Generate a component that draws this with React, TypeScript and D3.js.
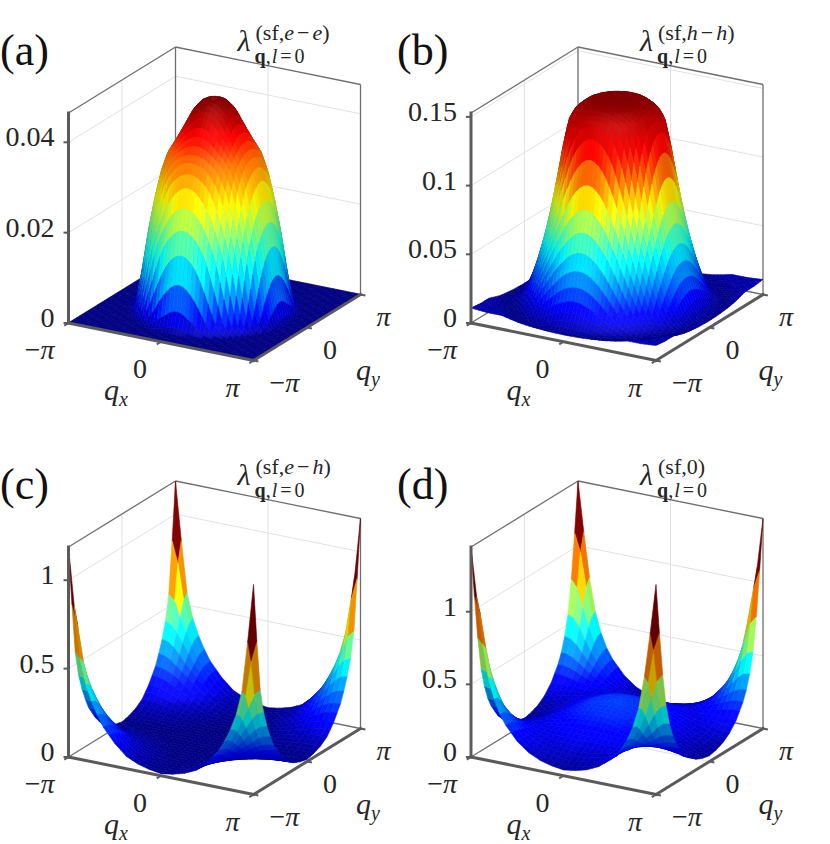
import React from "react";
import * as d3 from "d3";

const W = 830;
const H = 844;

// ---------------- data ----------------
const PANEL_LABELS = ["(a)", "(b)", "(c)", "(d)"];
const Q_TICKS = [-Math.PI, 0, Math.PI];
const Q_TICK_LABELS = ["−π", "0", "π"];

const Z_TICKS_A = [0, 0.02, 0.04];
const Z_LABELS_A = ["0", "0.02", "0.04"];
const Z_TICKS_B = [0, 0.05, 0.1, 0.15];
const Z_LABELS_B = ["0", "0.05", "0.1", "0.15"];
const Z_TICKS_C = [0, 0.5, 1];
const Z_LABELS_C = ["0", "0.5", "1"];
const Z_TICKS_D = [0, 0.5, 1];
const Z_LABELS_D = ["0", "0.5", "1"];

// title superscripts: [text, style]  (i = italic, n = normal, o = operator with spacing)
const TITLE_SUP_A = [["(sf,", "n"], ["e", "i"], ["−", "o"], ["e", "i"], [")", "n"]];
const TITLE_SUP_B = [["(sf,", "n"], ["h", "i"], ["−", "o"], ["h", "i"], [")", "n"]];
const TITLE_SUP_C = [["(sf,", "n"], ["e", "i"], ["−", "o"], ["h", "i"], [")", "n"]];
const TITLE_SUP_D = [["(sf,0)", "n"]];

// (a) e-e : radial profile from q = 0   (r in units of π)
const R_EE = [0, 0.06, 0.12, 0.2, 0.28, 0.36, 0.44, 0.5, 0.56, 0.62, 0.68, 0.72, 0.76, 0.8, 1.5];
const LAMBDA_EE = [0.0455, 0.0465, 0.046, 0.044, 0.0405, 0.0372, 0.0342, 0.0302, 0.0242, 0.017, 0.008, 0.003, 0.0006, 0, 0];

// (b) h-h : radial profile from q = 0
const R_HH = [0, 0.1, 0.2, 0.3, 0.4, 0.45, 0.5, 0.55, 0.6, 0.65, 0.7, 0.75, 0.8, 0.85, 0.9, 0.95, 1.0, 1.1, 1.2, 1.3, 1.42];
const LAMBDA_HH = [0.152, 0.1529, 0.1524, 0.15, 0.144, 0.137, 0.12, 0.099, 0.079, 0.061, 0.046, 0.033, 0.022, 0.014, 0.009, 0.006, 0.005, 0.007, 0.01, 0.01, 0.011];

// (c) e-h : profile vs distance from Q = (π, π)
const D_EH = [0, 0.0625, 0.125, 0.1875, 0.25, 0.3125, 0.375, 0.5, 0.625, 0.75, 0.875, 1.0, 1.2, 1.42];
const LAMBDA_EH = [1.188, 0.86, 0.57, 0.43, 0.34, 0.27, 0.21, 0.13, 0.07, 0.04, 0.022, 0.012, 0.01, 0.012];

// (d) total : spike vs distance from (π, π) plus a dome around q = 0
const D_0 = [0, 0.0625, 0.125, 0.1875, 0.25, 0.3125, 0.375, 0.5, 0.625, 0.75, 0.875, 1.0, 1.2, 1.42];
const LAMBDA_0_SPIKE = [1.445, 1.1, 0.79, 0.56, 0.42, 0.32, 0.25, 0.15, 0.085, 0.045, 0.022, 0.01, 0, 0];
const R_0 = [0, 0.25, 0.5, 0.75, 1.0, 1.42];
const LAMBDA_0_DOME = [0.3, 0.27, 0.19, 0.1, 0.03, 0];

// ---------------- geometry / style ----------------
const EX = [185, 37.5];
const EY = [107, -66];
const EZ = 210;
const XY_WORLD = 213;
const Z_WORLD = 224;
const FAR = [-0.466, 0.813];

const LAYOUT = [
  { ox: 68.5, oy: 323, labelX: 0 },
  { ox: 471, oy: 323, labelX: 397 },
  { ox: 68.5, oy: 757, labelX: 0 },
  { ox: 471, oy: 757, labelX: 397 },
];

const FONT = "'Liberation Serif', 'Times New Roman', serif";
const TICK_FONT = 28;

type V3 = [number, number, number];
const sub = (a: V3, b: V3): V3 => [a[0] - b[0], a[1] - b[1], a[2] - b[2]];
const cross = (a: V3, b: V3): V3 => [a[1] * b[2] - a[2] * b[1], a[2] * b[0] - a[0] * b[2], a[0] * b[1] - a[1] * b[0]];
const dot = (a: V3, b: V3) => a[0] * b[0] + a[1] * b[1] + a[2] * b[2];
const norm = (a: V3): V3 => {
  const l = Math.hypot(a[0], a[1], a[2]) || 1;
  return [a[0] / l, a[1] / l, a[2] / l];
};
const LIGHT = norm([0.314, -0.548, 0.776]);
const VIEW = norm([0.466, -0.813, 0.351]);
const HALF = norm([LIGHT[0] + VIEW[0], LIGHT[1] + VIEW[1], LIGHT[2] + VIEW[2]]);

const clamp01 = (x: number) => Math.max(0, Math.min(1, x));
function jet(t: number): V3 {
  return [clamp01(1.5 - Math.abs(4 * t - 3)), clamp01(1.5 - Math.abs(4 * t - 2)), clamp01(1.5 - Math.abs(4 * t - 1))];
}

const profile = (dom: number[], rng: number[]) => d3.scaleLinear().domain(dom).range(rng).clamp(true);
const fEE = profile(R_EE, LAMBDA_EE);
const fHH = profile(R_HH, LAMBDA_HH);
const fEH = profile(D_EH, LAMBDA_EH);
const f0s = profile(D_0, LAMBDA_0_SPIKE);
const f0d = profile(R_0, LAMBDA_0_DOME);
const radius = (qx: number, qy: number) => Math.hypot(qx, qy) / Math.PI;
const cornerDist = (qx: number, qy: number) => Math.hypot(Math.PI - Math.abs(qx), Math.PI - Math.abs(qy)) / Math.PI;

const PANELS = [
  { value: (x: number, y: number) => fEE(radius(x, y)), N: 48, zTicks: Z_TICKS_A, zLabels: Z_LABELS_A, sup: TITLE_SUP_A },
  { value: (x: number, y: number) => fHH(radius(x, y)), N: 48, zTicks: Z_TICKS_B, zLabels: Z_LABELS_B, sup: TITLE_SUP_B },
  { value: (x: number, y: number) => fEH(cornerDist(x, y)), N: 32, zTicks: Z_TICKS_C, zLabels: Z_LABELS_C, sup: TITLE_SUP_C },
  { value: (x: number, y: number) => f0s(cornerDist(x, y)) + f0d(radius(x, y)), N: 32, zTicks: Z_TICKS_D, zLabels: Z_LABELS_D, sup: TITLE_SUP_D },
];

function qLabel(s: string) {
  if (s === "−π") return [<tspan key="m">−</tspan>, <tspan key="p" fontStyle="italic">π</tspan>];
  if (s === "π") return <tspan fontStyle="italic">π</tspan>;
  return s;
}

function Panel({ idx }: { idx: number }) {
  const cfg = PANELS[idx];
  const lay = LAYOUT[idx];
  const N = cfg.N;
  const qs = d3.range(N + 1).map((i) => -Math.PI + (2 * Math.PI * i) / N);
  const Z = qs.map((qx) => qs.map((qy) => cfg.value(qx, qy)));
  const flat = Z.flat();
  const zMax = d3.max(flat) as number;
  const zMin = d3.min(flat) as number;
  const wScale = d3.scaleLinear().domain([0, zMax]).range([0, 1]).clamp(true);
  const cScale = d3.scaleLinear().domain([zMin, zMax]).range([0, 1]).clamp(true);
  const uScale = d3.scaleLinear().domain([-Math.PI, Math.PI]).range([0, 1]);
  const P = (u: number, v: number, w: number): [number, number] => [
    lay.ox + u * EX[0] + v * EY[0],
    lay.oy + u * EX[1] + v * EY[1] - w * EZ,
  ];
  const line = (a: V3, b: V3) => {
    const p = P(...a);
    const q = P(...b);
    return `M${p[0]},${p[1]}L${q[0]},${q[1]}`;
  };

  // faces
  const faces: { d: string; fill: string; key: number }[] = [];
  for (let i = 0; i < N; i++) {
    for (let j = 0; j < N; j++) {
      const c = [
        [i, j],
        [i + 1, j],
        [i + 1, j + 1],
        [i, j + 1],
      ];
      const p3 = c.map(([a, b]) => [uScale(qs[a]), uScale(qs[b]), wScale(Z[a][b])] as V3);
      const scr = p3.map((p) => P(p[0], p[1], p[2]));
      const d = "M" + scr.map((p) => p[0].toFixed(2) + "," + p[1].toFixed(2)).join("L") + "Z";
      const val = Math.max(...c.map(([a, b]) => Z[a][b]));
      const wp = p3.map((p) => [p[0] * XY_WORLD, p[1] * XY_WORLD, p[2] * Z_WORLD] as V3);
      const n = norm(cross(sub(wp[2], wp[0]), sub(wp[3], wp[1])));
      const ndl = dot(n, LIGHT);
      const k = 0.76 + 0.34 * Math.max(0, ndl);
      const spec = 0.08 * Math.pow(Math.max(0, dot(n, HALF)), 10);
      const col = jet(cScale(val));
      const rgb = col.map((x) => Math.round(255 * Math.min(1, x * k + spec)));
      const fill = `rgb(${rgb[0]},${rgb[1]},${rgb[2]})`;
      const uc = (i + 0.5) / N;
      const vc = (j + 0.5) / N;
      faces.push({ d, fill, key: FAR[0] * uc + FAR[1] * vc });
    }
  }
  faces.sort((a, b) => b.key - a.key);

  const gridColor = "#e2e2e2";
  const gridLines: string[] = [];
  cfg.zTicks.forEach((t) => {
    if (t === 0) return;
    const w = wScale(t);
    gridLines.push(line([0, 1, w], [1, 1, w]));
    gridLines.push(line([0, 0, w], [0, 1, w]));
  });
  gridLines.push(line([0.5, 1, 0], [0.5, 1, 1]));
  gridLines.push(line([0, 0.5, 0], [0, 0.5, 1]));
  gridLines.push(line([0.5, 0, 0], [0.5, 1, 0]));
  gridLines.push(line([0, 0.5, 0], [1, 0.5, 0]));

  const boxLines = [
    line([0, 0, 1], [0, 1, 1]),
    line([0, 1, 1], [1, 1, 1]),
    line([0, 1, 0], [0, 1, 1]),
    line([1, 1, 0], [1, 1, 1]),
    line([0, 0, 0], [0, 1, 0]),
    line([0, 1, 0], [1, 1, 0]),
  ];
  const axisLines = [line([0, 0, 0], [1, 0, 0]), line([1, 0, 0], [1, 1, 0]), line([0, 0, 0], [0, 0, 1])];

  const eyLen = Math.hypot(EY[0], EY[1]);
  const exLen = Math.hypot(EX[0], EX[1]);
  const tickLines: string[] = [];
  cfg.zTicks.forEach((t) => {
    const p = P(0, 0, wScale(t));
    tickLines.push(`M${p[0]},${p[1]}L${p[0] - 5},${p[1]}`);
  });
  Q_TICKS.forEach((q) => {
    const p = P(uScale(q), 0, 0);
    tickLines.push(`M${p[0]},${p[1]}L${p[0] - (EY[0] / eyLen) * 5},${p[1] - (EY[1] / eyLen) * 5}`);
    const r = P(1, uScale(q), 0);
    tickLines.push(`M${r[0]},${r[1]}L${r[0] + (EX[0] / exLen) * 5},${r[1] + (EX[1] / exLen) * 5}`);
  });

  const xMid = P(0.5, 0, 0);
  const yMid = P(1, 0.5, 0);
  const textColor = "#262626";

  return (
    <g fontFamily={FONT}>
      {gridLines.map((d, k) => (
        <path key={"g" + k} d={d} stroke={gridColor} strokeWidth={1} fill="none" />
      ))}
      {boxLines.map((d, k) => (
        <path key={"b" + k} d={d} stroke="#6e6e6e" strokeWidth={1.3} fill="none" />
      ))}
      <g>
        {faces.map((f, k) => (
          <path key={k} d={f.d} fill={f.fill} stroke={f.fill} strokeWidth={0.6} strokeLinejoin="round" />
        ))}
      </g>
      {axisLines.map((d, k) => (
        <path key={"a" + k} d={d} stroke="#5a5a5a" strokeWidth={3} fill="none" strokeLinecap="square" />
      ))}
      {tickLines.map((d, k) => (
        <path key={"t" + k} d={d} stroke="#5a5a5a" strokeWidth={2} fill="none" />
      ))}
      {cfg.zTicks.map((t, k) => (
        <text key={"zl" + k} x={lay.ox - 14} y={P(0, 0, wScale(t))[1] + 4} textAnchor="end" fontSize={TICK_FONT} fill={textColor}>
          {cfg.zLabels[k]}
        </text>
      ))}
      {Q_TICKS.map((q, k) => {
        const p = P(uScale(q), 0, 0);
        return (
          <text key={"xl" + k} x={p[0] - 14} y={p[1] + 36} textAnchor="end" fontSize={TICK_FONT} fill={textColor}>
            {qLabel(Q_TICK_LABELS[k])}
          </text>
        );
      })}
      {Q_TICKS.map((q, k) => {
        const p = P(1, uScale(q), 0);
        return (
          <text key={"yl" + k} x={p[0] + 16} y={p[1] + 31} textAnchor="start" fontSize={TICK_FONT} fill={textColor}>
            {qLabel(Q_TICK_LABELS[k])}
          </text>
        );
      })}
      <text x={xMid[0] - 57} y={xMid[1] + 58} fontSize={30} fontStyle="italic" fill={textColor}>
        q<tspan fontSize={20} dy={6}>x</tspan>
      </text>
      <text x={yMid[0] + 49} y={yMid[1] + 52} fontSize={30} fontStyle="italic" fill={textColor}>
        q<tspan fontSize={20} dy={6}>y</tspan>
      </text>
      {/* title */}
      <text x={lay.ox + 169} y={lay.oy - 272} fontSize={30} fontStyle="italic" fill={textColor}>
        λ
      </text>
      <text x={lay.ox + 187} y={lay.oy - 283} fontSize={22} fill={textColor}>
        {cfg.sup.map(([t, s], k) => (
          <tspan key={k} fontStyle={s === "i" ? "italic" : "normal"} dx={s === "o" || (k > 0 && cfg.sup[k - 1][1] === "o") ? 3 : 0}>
            {t}
          </tspan>
        ))}
      </text>
      <text x={lay.ox + 186} y={lay.oy - 260} fontSize={20} fill={textColor}>
        <tspan fontWeight="bold">q</tspan>
        <tspan>,</tspan>
        <tspan fontStyle="italic" dx={1}>l</tspan>
        <tspan dx={3}>=</tspan>
        <tspan dx={3}>0</tspan>
      </text>
      <text x={lay.labelX} y={lay.oy - 258} fontSize={44} fill="#111">
        {PANEL_LABELS[idx]}
      </text>
    </g>
  );
}

export default function App() {
  return (
    <svg
      width={W}
      height={H}
      viewBox={`0 0 ${W} ${H}`}
      style={{ position: "absolute", left: 0, top: 0, background: "#fff" }}
    >
      <rect x={0} y={0} width={W} height={H} fill="#fff" />
      {PANELS.map((_, i) => (
        <Panel key={i} idx={i} />
      ))}
    </svg>
  );
}
